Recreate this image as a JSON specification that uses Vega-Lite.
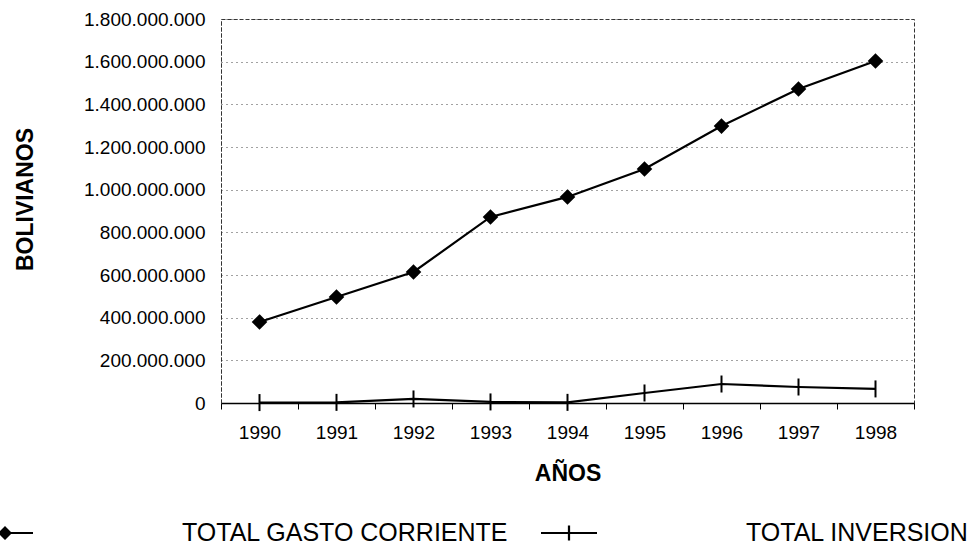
{
  "$schema": "https://vega.github.io/schema/vega-lite/v6.json",
  "width": 693,
  "height": 384,
  "autosize": {"type": "none"},
  "padding": {"left": 221, "top": 19, "right": 60, "bottom": 145},
  "background": "white",
  "config": {
    "font": "Liberation Sans",
    "locale": {"number": {"decimal": ",", "thousands": ".", "grouping": [3], "currency": ["$", ""]}},
    "view": {"stroke": "#333", "strokeDash": [4, 2], "strokeWidth": 1}
  },
  "data": {
    "values": [
      {"anio": "1990", "serie": "TOTAL GASTO CORRIENTE", "valor": 380000000},
      {"anio": "1991", "serie": "TOTAL GASTO CORRIENTE", "valor": 497000000},
      {"anio": "1992", "serie": "TOTAL GASTO CORRIENTE", "valor": 614000000},
      {"anio": "1993", "serie": "TOTAL GASTO CORRIENTE", "valor": 872000000},
      {"anio": "1994", "serie": "TOTAL GASTO CORRIENTE", "valor": 966000000},
      {"anio": "1995", "serie": "TOTAL GASTO CORRIENTE", "valor": 1097000000},
      {"anio": "1996", "serie": "TOTAL GASTO CORRIENTE", "valor": 1298000000},
      {"anio": "1997", "serie": "TOTAL GASTO CORRIENTE", "valor": 1472000000},
      {"anio": "1998", "serie": "TOTAL GASTO CORRIENTE", "valor": 1603000000},
      {"anio": "1990", "serie": "TOTAL INVERSION", "valor": 2000000},
      {"anio": "1991", "serie": "TOTAL INVERSION", "valor": 3000000},
      {"anio": "1992", "serie": "TOTAL INVERSION", "valor": 19000000},
      {"anio": "1993", "serie": "TOTAL INVERSION", "valor": 5000000},
      {"anio": "1994", "serie": "TOTAL INVERSION", "valor": 3000000},
      {"anio": "1995", "serie": "TOTAL INVERSION", "valor": 47000000},
      {"anio": "1996", "serie": "TOTAL INVERSION", "valor": 89000000},
      {"anio": "1997", "serie": "TOTAL INVERSION", "valor": 75000000},
      {"anio": "1998", "serie": "TOTAL INVERSION", "valor": 66000000}
    ]
  },
  "encoding": {
    "x": {
      "field": "anio",
      "type": "ordinal",
      "scale": {"type": "band", "paddingInner": 0, "paddingOuter": 0},
      "axis": {
        "title": "AÑOS",
        "labelAngle": 0,
        "tickBand": "extent",
        "tickSize": 6,
        "tickColor": "black",
        "domainColor": "black",
        "domainWidth": 1.5,
        "labelPadding": 14,
        "labelFontSize": 19,
        "labelColor": "black",
        "titleFontSize": 23,
        "titleFontWeight": "bold",
        "titleColor": "black",
        "titleY": 59,
        "grid": false
      }
    },
    "y": {
      "field": "valor",
      "type": "quantitative",
      "scale": {"domain": [0, 1800000000], "nice": false},
      "axis": {
        "title": "BOLIVIANOS",
        "values": [0, 200000000, 400000000, 600000000, 800000000, 1000000000, 1200000000, 1400000000, 1600000000, 1800000000],
        "format": ",d",
        "tickSize": 0,
        "labelPadding": 16,
        "labelFontSize": 19,
        "labelColor": "black",
        "grid": true,
        "gridColor": "#444",
        "gridDash": [1, 4],
        "gridWidth": 1,
        "domainColor": "#333",
        "domainDash": [4, 2],
        "titleFontSize": 23,
        "titleFontWeight": "bold",
        "titleColor": "black",
        "titleX": -184,
        "titleY": 180
      }
    }
  },
  "layer": [
    {
      "mark": {"type": "line", "color": "black", "strokeWidth": 2.2},
      "encoding": {"detail": {"field": "serie", "type": "nominal"}}
    },
    {
      "mark": {"type": "point", "fill": "black", "stroke": "black", "strokeWidth": 2, "opacity": 1, "size": 289},
      "encoding": {
        "shape": {
          "field": "serie",
          "type": "nominal",
          "scale": {
            "domain": ["TOTAL GASTO CORRIENTE", "TOTAL INVERSION"],
            "range": ["M0,-0.75L0.75,0L0,0.75L-0.75,0Z", "M0,-1V1"]
          },
          "legend": null
        }
      }
    },
    {
      "mark": {"type": "point", "filled": true, "color": "black", "opacity": 0, "size": 10},
      "encoding": {
        "shape": {
          "field": "serie",
          "type": "nominal",
          "scale": {
            "domain": ["TOTAL GASTO CORRIENTE", "TOTAL INVERSION"],
            "range": [
              "M-1,-0.036H1V0.036H-1ZM0,-0.25L0.25,0L0,0.25L-0.25,0Z",
              "M-1,-0.036H1V0.036H-1ZM-0.04,-0.27H0.04V0.27H-0.04Z"
            ]
          },
          "legend": {
            "orient": "none",
            "legendX": -244,
            "legendY": 486,
            "direction": "horizontal",
            "title": null,
            "padding": 0,
            "symbolSize": 3136,
            "symbolOpacity": 1,
            "symbolFillColor": "black",
            "symbolStrokeWidth": 0,
            "labelOffset": 149,
            "columnPadding": 32,
            "labelFontSize": 25,
            "labelColor": "black",
            "labelLimit": 600,
            "encode": {
              "symbols": {
                "fill": {"value": "black"},
                "opacity": {"value": 1}
              }
            }
          }
        }
      }
    }
  ],
  "resolve": {"scale": {"shape": "independent"}, "legend": {"shape": "independent"}}
}
